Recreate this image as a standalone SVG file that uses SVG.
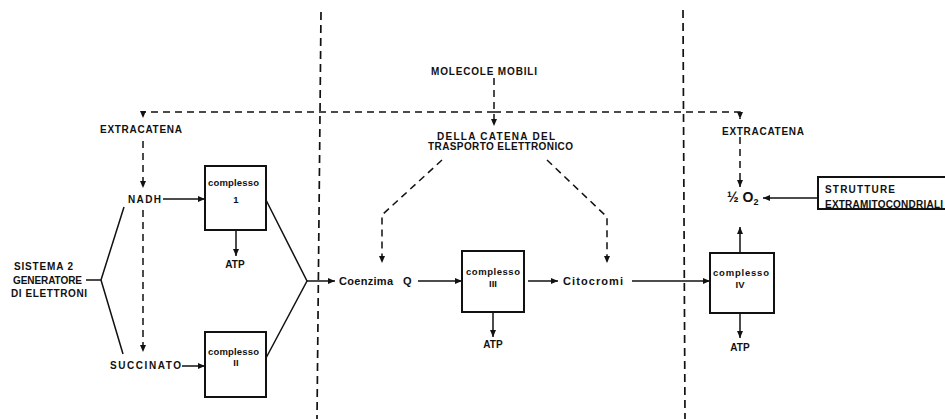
<svg xmlns="http://www.w3.org/2000/svg" width="945" height="419" viewBox="0 0 945 419">
<style>
.t{font-family:"Liberation Sans",Arial,sans-serif;font-weight:bold;font-size:10px;fill:#111}
.s{font-family:"Liberation Sans",Arial,sans-serif;font-weight:bold;font-size:9.5px;fill:#111}
.m{font-family:"Liberation Sans",Arial,sans-serif;font-weight:bold;font-size:11px;fill:#111}
.o{font-family:"Liberation Sans",Arial,sans-serif;font-weight:bold;font-size:14px;fill:#111}
.box{fill:#fff;stroke:#111;stroke-width:2}
.ln{fill:none;stroke:#111;stroke-width:1.5}
.d{fill:none;stroke:#111;stroke-width:1.5;stroke-dasharray:7 5}
.dv{fill:none;stroke:#111;stroke-width:1.7;stroke-dasharray:8 5}
</style>
<defs>
<marker id="a" markerUnits="userSpaceOnUse" markerWidth="8" markerHeight="8" refX="7" refY="4" orient="auto">
<path d="M0,1 L7,4 L0,7 Z" fill="#111"/>
</marker>
</defs>

<g id="dividers">
<line class="dv" x1="321" y1="12" x2="317" y2="419"/>
<line class="dv" x1="683" y1="10" x2="685" y2="419"/>
</g>

<g id="connectors">
<path class="d" d="M494,112 L143,112 L143,118" marker-end="url(#a)"/>
<path class="d" d="M494,112 L740,112 L740,119" marker-end="url(#a)"/>
<path class="d" d="M494,78 L494,126" marker-end="url(#a)"/>
<path class="d" d="M143,141 L143,188" marker-end="url(#a)"/>
<path class="d" d="M143,210 L143,352" marker-end="url(#a)"/>
<path class="d" d="M740,137 L740,187" marker-end="url(#a)"/>
<path class="d" d="M442,160 L382,215 L382,263" marker-end="url(#a)"/>
<path class="d" d="M547,160 L607,217 L607,263" marker-end="url(#a)"/>

<path class="ln" d="M86,280 L101,280 M101,280 L124,207 M101,280 L123,354"/>
<path class="ln" d="M163,199 L205,199" marker-end="url(#a)"/>
<path class="ln" d="M182,366 L205,366" marker-end="url(#a)"/>
<path class="ln" d="M236,231 L236,256" marker-end="url(#a)"/>
<path class="ln" d="M266,200 L307,281 L266,358"/>
<path class="ln" d="M307,281 L335,281" marker-end="url(#a)"/>
<path class="ln" d="M418,281 L462,281" marker-end="url(#a)"/>
<path class="ln" d="M528,281 L558,281" marker-end="url(#a)"/>
<path class="ln" d="M632,281 L710,281" marker-end="url(#a)"/>
<path class="ln" d="M493,313 L493,337" marker-end="url(#a)"/>
<path class="ln" d="M740,314 L740,338" marker-end="url(#a)"/>
<path class="ln" d="M740,253 L740,227" marker-end="url(#a)"/>
<path class="ln" d="M818,198 L763,198" marker-end="url(#a)"/>
</g>

<g id="sistema2">
<text class="t" x="14" y="269.5" textLength="59">SISTEMA 2</text>
<text class="t" x="13" y="283.5" textLength="69">GENERATORE</text>
<text class="t" x="11" y="296.5" textLength="76">DI ELETTRONI</text>
</g>

<g id="extracatena-left"><text class="t" x="100" y="133" textLength="82">EXTRACATENA</text></g>
<g id="nadh"><text class="t" x="128" y="203" textLength="33">NADH</text></g>
<g id="succinato"><text class="t" x="110" y="369" textLength="71">SUCCINATO</text></g>

<g id="complesso1">
<rect class="box" x="205" y="166" width="61" height="64"/>
<text class="s" x="208" y="186" textLength="51">complesso</text>
<text class="s" x="236" y="203" text-anchor="middle">1</text>
</g>
<g id="atp1"><text class="t" x="235" y="268" text-anchor="middle">ATP</text></g>

<g id="complesso2">
<rect class="box" x="205" y="332" width="61" height="65"/>
<text class="s" x="208" y="355" textLength="51">complesso</text>
<text class="s" x="236" y="366" text-anchor="middle">II</text>
</g>

<g id="molecole"><text class="t" x="431" y="75" textLength="106">MOLECOLE MOBILI</text></g>
<g id="della-catena">
<text class="t" x="437" y="139.5" textLength="118">DELLA  CATENA  DEL</text>
<text class="t" x="428" y="150" textLength="145">TRASPORTO ELETTRONICO</text>
</g>

<g id="coenzima">
<text class="m" x="339" y="285" textLength="54">Coenzima</text>
<text class="m" x="403" y="285">Q</text>
</g>

<g id="complesso3">
<rect class="box" x="462" y="251" width="62" height="61"/>
<text class="s" x="466" y="275" textLength="54">complesso</text>
<text class="s" x="493" y="287" text-anchor="middle">III</text>
</g>
<g id="atp3"><text class="t" x="493" y="348" text-anchor="middle">ATP</text></g>

<g id="citocromi"><text class="m" x="563" y="285" textLength="60">Citocromi</text></g>

<g id="extracatena-right"><text class="t" x="722" y="134.5" textLength="82">EXTRACATENA</text></g>

<g id="o2">
<text class="o" x="727" y="202">½ O<tspan font-size="9" dy="3">2</tspan></text>
</g>

<g id="strutture">
<rect class="box" x="818" y="177" width="130" height="32"/>
<text class="t" x="825" y="192.5" textLength="70">STRUTTURE</text>
<text class="t" x="825" y="207.5" textLength="118">EXTRAMITOCONDRIALI</text>
</g>

<g id="complesso4">
<rect class="box" x="710" y="253" width="64" height="60"/>
<text class="s" x="713" y="276" textLength="56">complesso</text>
<text class="s" x="740" y="288" text-anchor="middle">IV</text>
</g>
<g id="atp4"><text class="t" x="740" y="351" text-anchor="middle">ATP</text></g>
</svg>
